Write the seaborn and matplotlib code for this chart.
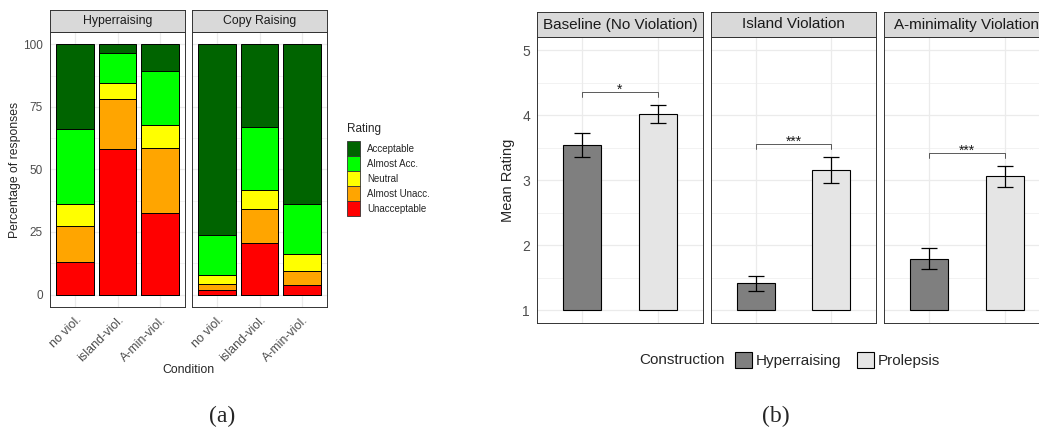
import numpy as np
import pandas as pd
import matplotlib
matplotlib.use('Agg')
import matplotlib.pyplot as plt
from matplotlib.patches import Patch
from matplotlib.ticker import MultipleLocator
import seaborn as sns

# ---- (a) percentage of responses per rating ----
conditions = ['no viol.', 'island-viol.', 'A-min-viol.']
ratings = ['Acceptable', 'Almost Acc.', 'Neutral', 'Almost Unacc.', 'Unacceptable']
rating_colors = ['#006400', '#00FF00', '#FFFF00', '#FFA500', '#FF0000']

hr_unacceptable = [13.0, 58.1, 32.5]
hr_almost_unacc = [14.5, 20.1, 26.0]
hr_neutral = [8.8, 6.2, 9.3]
hr_almost_acc = [29.7, 12.2, 21.5]
hr_acceptable = [34.0, 3.4, 10.7]

cr_unacceptable = [1.9, 20.6, 3.7]
cr_almost_unacc = [2.3, 13.6, 5.6]
cr_neutral = [3.5, 7.4, 7.1]
cr_almost_acc = [16.0, 25.4, 19.7]
cr_acceptable = [76.3, 33.0, 63.9]

# ---- (b) mean rating with CI ----
violations = ['Baseline (No Violation)', 'Island Violation', 'A-minimality Violation']
constructions = ['Hyperraising', 'Prolepsis']
construction_colors = ['#7F7F7F', '#E5E5E5']
hyper_mean = [3.54, 1.41, 1.79]
hyper_lo = [3.36, 1.30, 1.63]
hyper_hi = [3.72, 1.52, 1.96]
prol_mean = [4.02, 3.15, 3.06]
prol_lo = [3.88, 2.96, 2.90]
prol_hi = [4.16, 3.35, 3.22]
bracket_y = [4.36, 3.56, 3.42]
sig_labels = ['*', '***', '***']

sns.set_theme(style='white')
plt.rcParams['font.family'] = ['Liberation Sans', 'DejaVu Sans']

W, H = 1039, 429
fig = plt.figure(figsize=(W / 100, H / 100), dpi=100)

GRID = '#EBEBEB'
BORDER = '#333333'
TICKCOL = '#4D4D4D'


def px_axes(x0, y0, x1, y1):
    return fig.add_axes([x0 / W, 1 - y1 / H, (x1 - x0) / W, (y1 - y0) / H])


def style_panel(ax, minor_step):
    ax.set_facecolor('white')
    for s in ax.spines.values():
        s.set_color(BORDER)
        s.set_linewidth(0.7)
        s.set_visible(True)
    ax.yaxis.set_minor_locator(MultipleLocator(minor_step))
    ax.grid(True, which='major', color=GRID, lw=0.9)
    ax.grid(True, which='minor', axis='y', color=GRID, lw=0.45)
    ax.set_axisbelow(True)
    ax.tick_params(which='minor', length=0)
    ax.tick_params(which='major', direction='out', length=3, width=0.6,
                   color=BORDER, pad=2, labelcolor=TICKCOL)
    ax.set_xlabel('')
    ax.set_ylabel('')


def add_strip(x0, y0, x1, y1, label, size):
    sax = px_axes(x0, y0, x1, y1)
    sax.set_facecolor('#D9D9D9')
    sax.set_xticks([])
    sax.set_yticks([])
    for s in sax.spines.values():
        s.set_color(BORDER)
        s.set_linewidth(0.7)
        s.set_visible(True)
    sax.text(0.5, 0.5, label, ha='center', va='center', fontsize=size,
             color='#1A1A1A', transform=sax.transAxes)


# ----- panel (a) -----
facets_a = [
    ('Hyperraising', [hr_unacceptable, hr_almost_unacc, hr_neutral, hr_almost_acc, hr_acceptable], (50, 185)),
    ('Copy Raising', [cr_unacceptable, cr_almost_unacc, cr_neutral, cr_almost_acc, cr_acceptable], (192, 327)),
]
for i, (name, layers, (x0, x1)) in enumerate(facets_a):
    ax = px_axes(x0, 32, x1, 307)
    # cumulative tops, bottom (Unacceptable) to top (Acceptable)
    cum = np.cumsum(np.array(layers), axis=0)
    layer_cols = rating_colors[::-1]
    for k in range(len(layers) - 1, -1, -1):
        df = pd.DataFrame({'Condition': conditions, 'pct': cum[k]})
        sns.barplot(data=df, x='Condition', y='pct', order=conditions,
                    color=layer_cols[k], saturation=1, width=0.9,
                    edgecolor='black', linewidth=0.7, errorbar=None, ax=ax)
    style_panel(ax, 12.5)
    ax.set_xlim(-0.6, 2.6)
    ax.set_ylim(-5, 105)
    ax.set_yticks([0, 25, 50, 75, 100])
    ax.set_xticks(range(len(conditions)))
    ax.set_xticklabels(conditions, rotation=45, ha='right', va='top',
                       rotation_mode='anchor', fontsize=9)
    ax.tick_params(axis='y', labelsize=8.5)
    if i > 0:
        ax.tick_params(axis='y', left=False, labelleft=False)
    add_strip(x0, 10, x1, 32, name, 8.8)

fig.text(188 / W, 1 - 370 / H, 'Condition', ha='center', va='center', fontsize=8.8)
fig.text(15 / W, 1 - 170 / H, 'Percentage of responses', ha='center', va='center',
         rotation=90, fontsize=8.8)

fig.text(347 / W, 1 - 129 / H, 'Rating', ha='left', va='center', fontsize=8.5)
handles_a = [Patch(facecolor=c, edgecolor=BORDER, lw=0.6) for c in rating_colors]
fig.legend(handles_a, ratings, loc='upper left',
           bbox_to_anchor=(347 / W, 1 - 141 / H), frameon=False, fontsize=7,
           handlelength=1.35, handleheight=2.0,
           labelspacing=0, handletextpad=0.7, borderpad=0, borderaxespad=0)

# ----- panel (b) -----
panels_b = [(537, 703), (711, 876), (884, 1050)]
for i, (x0, x1) in enumerate(panels_b):
    ax = px_axes(x0, 37, x1, 323)
    df = pd.DataFrame({'Construction': constructions,
                       'Mean': [hyper_mean[i], prol_mean[i]],
                       'lo': [hyper_lo[i], prol_lo[i]],
                       'hi': [hyper_hi[i], prol_hi[i]]})
    sns.barplot(data=df, x='Construction', y='Mean', hue='Construction',
                order=constructions, hue_order=constructions,
                palette=construction_colors, saturation=1, width=0.5,
                edgecolor='black', linewidth=0.8, errorbar=None, legend=False, ax=ax)
    # bars start at rating 1
    for p in ax.patches:
        h = p.get_height()
        p.set_y(1)
        p.set_height(h - 1)
    ax.errorbar(range(len(constructions)), df['Mean'],
                yerr=[df['Mean'] - df['lo'], df['hi'] - df['Mean']],
                fmt='none', ecolor='black', elinewidth=0.9, capsize=5.5, capthick=0.9)
    # significance bracket
    tip = 0.086
    ax.plot([0, 0, 1, 1], [bracket_y[i] - tip, bracket_y[i], bracket_y[i], bracket_y[i] - tip],
            color='#404040', lw=0.6)
    ax.text(0.5, bracket_y[i] - 0.03, sig_labels[i], ha='center', va='baseline',
            fontsize=10, color='#1A1A1A')
    style_panel(ax, 0.5)
    ax.set_xlim(-0.6, 1.6)
    ax.set_ylim(0.8, 5.2)
    ax.set_yticks([1, 2, 3, 4, 5])
    ax.set_xticks(range(len(constructions)))
    ax.tick_params(axis='x', bottom=False, labelbottom=False)
    ax.tick_params(axis='y', labelsize=10)
    if i > 0:
        ax.tick_params(axis='y', left=False, labelleft=False)
    add_strip(x0, 12, x1, 37, violations[i], 11)

fig.text(508 / W, 1 - 180 / H, 'Mean Rating', ha='center', va='center',
         rotation=90, fontsize=10.5)
fig.text(639 / W, 1 - 360 / H, 'Construction', ha='left', va='center', fontsize=11)
handles_b = [Patch(facecolor=c, edgecolor='black', lw=0.8) for c in construction_colors]
fig.legend(handles_b, constructions, loc='center left', ncol=2,
           bbox_to_anchor=(735 / W, 1 - 360 / H), frameon=False, fontsize=11,
           handlelength=1.11, handleheight=1.3, handletextpad=0.26,
           columnspacing=1.0, borderpad=0, borderaxespad=0)

# captions
fig.text(222 / W, 1 - 416 / H, '(a)', ha='center', va='center', fontsize=17,
         family=['Liberation Serif', 'DejaVu Serif'])
fig.text(776 / W, 1 - 416 / H, '(b)', ha='center', va='center', fontsize=17,
         family=['Liberation Serif', 'DejaVu Serif'])

fig.savefig('out.png', dpi=100)
